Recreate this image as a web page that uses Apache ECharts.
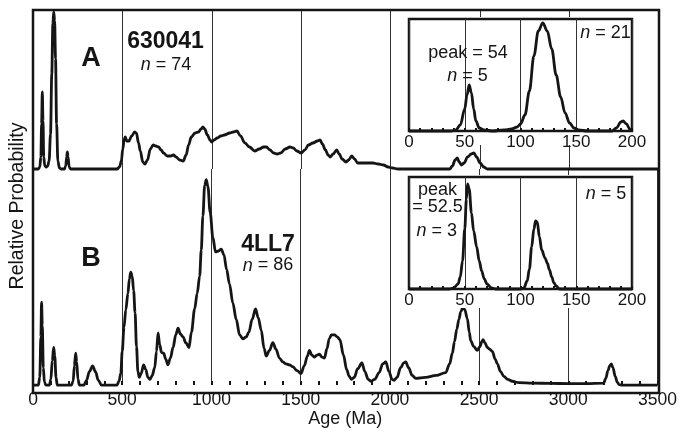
<!DOCTYPE html>
<html><head><meta charset="utf-8">
<script src="https://cdn.jsdelivr.net/npm/echarts@6/dist/echarts.min.js"></script>
<style>html,body{margin:0;padding:0;background:#fff}#c{width:680px;height:437px}</style>
</head><body><div id="c"></div>
<script>
// ---- data (age in Ma, relative probability) ----
const curveA = [[0,0],[30,0],[38,2],[44,12],[48,45],[52,77],[56,48],[60,12],[66,3],[74,2],[82,3],[90,8],[98,35],[105,95],[111,145],[116,157],[121,148],[126,110],[132,45],[139,8],[148,1],[158,0],[176,0],[183,3],[188,12],[192,17],[196,12],[202,2],[210,0],
[470,0],[484,2],[494,8],[502,20],[510,30],[516,32],[524,28],[536,28],[552,33],[568,37],[578,36],[590,26],[600,18],[614,7],[626,5],[640,9],[656,20],[672,24],[686,23],[702,22],[716,19],[730,16],[750,13],[770,13],[785,14],[800,12],[820,9],[840,8],[856,14],[870,24],[885,32],[906,36],[925,37],[940,40],[950,42],[960,40],[975,34],[990,29],[999,27],[1012,29],[1030,31],[1050,33],[1070,34],[1100,36],[1120,37],[1140,38],[1160,33],[1185,26],[1210,22],[1240,18],[1265,20],[1290,22],[1305,22],[1325,19],[1345,16],[1365,15],[1385,16],[1410,20],[1437,22],[1455,21],[1475,18],[1500,16],[1520,19],[1540,24],[1565,26],[1590,28],[1605,29],[1618,25],[1635,19],[1650,14],[1662,12],[1678,15],[1698,19],[1712,15],[1728,10],[1750,7],[1765,9],[1782,13],[1798,10],[1815,6],[1840,6],[1866,6],[1900,6],[1930,5],[1960,4],[1985,2],[2010,1],[2040,0],
[2330,0],[2345,3],[2360,9],[2372,11],[2383,7],[2395,4],[2410,6],[2430,12],[2450,15],[2465,16],[2480,12],[2500,6],[2520,2],[2540,0],[3500,0]];

const curveB = [[0,0],[30,0],[38,8],[44,50],[48,86],[52,62],[58,18],[64,3],[72,0],[92,0],[100,6],[108,25],[116,39],[122,30],[129,8],[136,0],[215,0],[225,4],[232,20],[239,33],[245,24],[252,6],[260,0],[285,0],[300,5],[316,14],[334,20],[350,14],[366,5],[384,0],
[470,0],[482,4],[492,12],[500,35],[510,60],[520,78],[532,95],[540,110],[548,117],[556,113],[564,98],[572,75],[580,40],[588,14],[596,8],[606,12],[620,21],[632,16],[644,8],[656,6],[668,10],[682,18],[692,35],[701,54],[710,42],[720,34],[732,33],[744,27],[756,21],[770,28],[785,39],[800,52],[813,59],[826,53],[841,50],[856,44],[874,39],[888,55],[906,79],[920,95],[934,113],[943,140],[952,175],[962,207],[971,213],[980,206],[993,179],[1008,153],[1023,138],[1040,139],[1055,141],[1070,135],[1085,120],[1101,105],[1120,85],[1139,68],[1158,52],[1176,48],[1195,50],[1210,55],[1228,68],[1247,79],[1262,70],[1279,57],[1295,38],[1307,30],[1325,36],[1344,44],[1362,37],[1381,28],[1400,24],[1418,22],[1437,21],[1456,19],[1480,15],[1502,12],[1520,20],[1538,30],[1549,36],[1563,31],[1577,29],[1590,31],[1605,32],[1620,29],[1633,28],[1648,38],[1660,48],[1672,52],[1690,52],[1705,50],[1720,47],[1740,31],[1758,16],[1772,9],[1785,6],[1800,8],[1820,17],[1843,23],[1860,14],[1878,6],[1894,4],[1915,6],[1940,13],[1960,22],[1977,24],[1995,14],[2012,6],[2024,5],[2040,8],[2060,18],[2078,23],[2089,24],[2105,18],[2125,10],[2145,7],[2200,8],[2260,10],[2313,13],[2335,22],[2350,33],[2362,45],[2375,58],[2387,68],[2397,76],[2410,81],[2420,78],[2434,69],[2445,55],[2453,46],[2470,40],[2490,36],[2505,40],[2515,45],[2522,47],[2532,44],[2546,39],[2560,37],[2574,35],[2590,27],[2602,22],[2620,14],[2639,9],[2660,6],[2686,4],[2723,2.5],[2800,2],[2900,1.8],[3000,1.5],[3100,1.5],[3198,2],[3210,7],[3222,15],[3232,20],[3241,22],[3250,18],[3263,9],[3274,3],[3285,0.5],[3300,0],[3500,0]];

const insetA = [[0,0],[38,0],[42,1],[46,6],[50,22],[52,36],[54,46],[56,38],[58,22],[60,10],[63,3],[67,1],[75,0],[85,1],[92,2],[97,4],[100,7],[104,16],[108,40],[112,75],[116,100],[120,108],[124,100],[128,82],[132,56],[136,34],[140,18],[144,8],[148,3],[152,1],[160,0],[182,0],[186,3],[190,9],[192,10],[195,7],[198,2],[200,0]];

const insetB = [[0,0],[36,0],[40,1],[44,5],[46,12],[48,28],[50,60],[51.5,90],[52.5,105],[54,100],[56,76],[58,58],[60.7,42],[63,28],[65.2,18],[67.5,10],[70,5],[74,1],[78,0],[100,0],[103,1],[106,8],[108,20],[110,42],[112,60],[113.5,68],[115,67],[117,52],[119,39],[122,31],[124,26],[126,19],[128,12],[130,6],[132,3],[135,0],[200,0]];

const mainRange = [0, 3500], mainStep = 500;
const insetRange = [0, 200], insetStep = 50;
const labels = {
  A: 'A', sampleA: '630041', nA: '{i|n} = 74',
  B: 'B', sampleB: '4LL7', nB: '{i|n} = 86',
  ia1: 'peak = 54', ia2: '{i|n} = 5', ia3: '{i|n} = 21',
  ib1: 'peak', ib2: '= 52.5', ib3: '{i|n} = 3', ib4: '{i|n} = 5',
  xName: 'Age (Ma)', yName: 'Relative Probability'
};

const FF = 'Liberation Sans, Arial, Helvetica, sans-serif';
const INK = '#151515';
const chart = echarts.init(document.getElementById('c'), null, {renderer: 'canvas'});

function txt(x, y, text, size, bold, extra) {
  return Object.assign({
    type: 'text', x: x, y: y, z: 10, silent: true,
    style: {
      text: text, fill: INK, fontSize: size, fontFamily: FF,
      fontWeight: bold ? 'bold' : 'normal',
      align: 'center', verticalAlign: 'middle',
      textAlign: 'center', textVerticalAlign: 'middle',
      rich: { i: { fontStyle: 'italic', fontSize: size, fontFamily: FF, fill: INK } }
    }
  }, extra || {});
}

const plain = v => String(v);
const splitStyle = { show: true, lineStyle: { color: '#333', width: 1 } };
const lineSeries = (data, xi, z) => ({
  type: 'line', data: data, xAxisIndex: xi, yAxisIndex: xi,
  showSymbol: false, symbol: 'none', smooth: 0.35, smoothMonotone: 'x',
  clip: false, silent: true, z: z,
  lineStyle: { color: INK, width: 2.8 }
});

const option = {
  animation: false,
  backgroundColor: '#fff',
  grid: [
    { left: 33, top: 10, width: 626, height: 383, show: true, borderColor: INK, borderWidth: 2.5, backgroundColor: 'transparent', z: 8 },
    { left: 33, top: 10, width: 626, height: 159 },
    { left: 33, top: 169, width: 626, height: 224 },
    { left: 409, top: 19, width: 223, height: 112, show: true, borderColor: INK, borderWidth: 2.5, backgroundColor: '#fff', z: 4 },
    { left: 409, top: 177, width: 223, height: 112, show: true, borderColor: INK, borderWidth: 2.5, backgroundColor: '#fff', z: 4 }
  ],
  xAxis: [
    { gridIndex: 0, type: 'value', show: false, min: 0, max: 1 },
    { gridIndex: 1, type: 'value', min: mainRange[0], max: mainRange[1], interval: mainStep,
      axisLine: { show: false }, axisTick: { show: false }, axisLabel: { show: false }, splitLine: splitStyle, z: 0 },
    { gridIndex: 2, type: 'value', min: mainRange[0], max: mainRange[1], interval: mainStep,
      axisLine: { show: false },
      axisTick: { show: true, inside: true, length: 4, lineStyle: { color: INK, width: 2 } },
      minorTick: { show: true, splitNumber: 5, length: 4, lineStyle: { color: INK, width: 2 } },
      axisLabel: { show: true, fontSize: 17.5, fontFamily: FF, color: INK, margin: 6, formatter: plain },
      splitLine: splitStyle,
      name: labels.xName, nameLocation: 'middle', nameGap: 24,
      nameTextStyle: { fontSize: 18, fontFamily: FF, color: INK }, z: 0 },
    { gridIndex: 3, type: 'value', min: insetRange[0], max: insetRange[1], interval: insetStep,
      axisLine: { show: false },
      axisTick: { show: true, inside: true, length: 3, lineStyle: { color: INK, width: 2 } },
      minorTick: { show: true, splitNumber: 5, length: 3, lineStyle: { color: INK, width: 2 } },
      axisLabel: { show: true, fontSize: 17, fontFamily: FF, color: INK, margin: 3, formatter: plain },
      splitLine: splitStyle, z: 5 },
    { gridIndex: 4, type: 'value', min: insetRange[0], max: insetRange[1], interval: insetStep,
      axisLine: { show: false },
      axisTick: { show: true, inside: true, length: 3, lineStyle: { color: INK, width: 2 } },
      minorTick: { show: true, splitNumber: 5, length: 3, lineStyle: { color: INK, width: 2 } },
      axisLabel: { show: true, fontSize: 17, fontFamily: FF, color: INK, margin: 3, formatter: plain },
      splitLine: splitStyle, z: 5 }
  ],
  yAxis: [
    { gridIndex: 0, type: 'value', show: false, min: 0, max: 1 },
    { gridIndex: 1, type: 'value', show: false, min: 0, max: 159 },
    { gridIndex: 2, type: 'value', show: false, min: 0, max: 224 },
    { gridIndex: 3, type: 'value', show: false, min: 0, max: 112 },
    { gridIndex: 4, type: 'value', show: false, min: 0, max: 112 }
  ],
  series: [
    lineSeries(curveA, 1, 2),
    lineSeries(curveB, 2, 2),
    lineSeries(insetA, 3, 6),
    lineSeries(insetB, 4, 6)
  ],
  graphic: { elements: [
    { type: 'rect', z: 3, silent: true, shape: { x: 398, y: 17, width: 256, height: 128 }, style: { fill: '#fff' } },
    { type: 'rect', z: 3, silent: true, shape: { x: 398, y: 175, width: 256, height: 133 }, style: { fill: '#fff' } },
    txt(91, 59, labels.A, 27, true),
    txt(165.5, 42, labels.sampleA, 23, true),
    txt(166, 65, labels.nA, 18, false),
    txt(91, 259, labels.B, 27, true),
    txt(268, 244.5, labels.sampleB, 23, true),
    txt(268, 265.5, labels.nB, 18, false),
    txt(468, 53.5, labels.ia1, 18, false),
    txt(467.5, 76, labels.ia2, 18, false),
    txt(605.5, 33.3, labels.ia3, 18, false),
    txt(437.5, 190, labels.ib1, 18, false),
    txt(437.5, 207, labels.ib2, 18, false),
    txt(436.7, 231, labels.ib3, 18, false),
    txt(606, 193.7, labels.ib4, 18, false),
    txt(17.5, 206, labels.yName, 19.5, false, { rotation: Math.PI / 2 })
  ]}
};
chart.setOption(option);
</script>
</body></html>
